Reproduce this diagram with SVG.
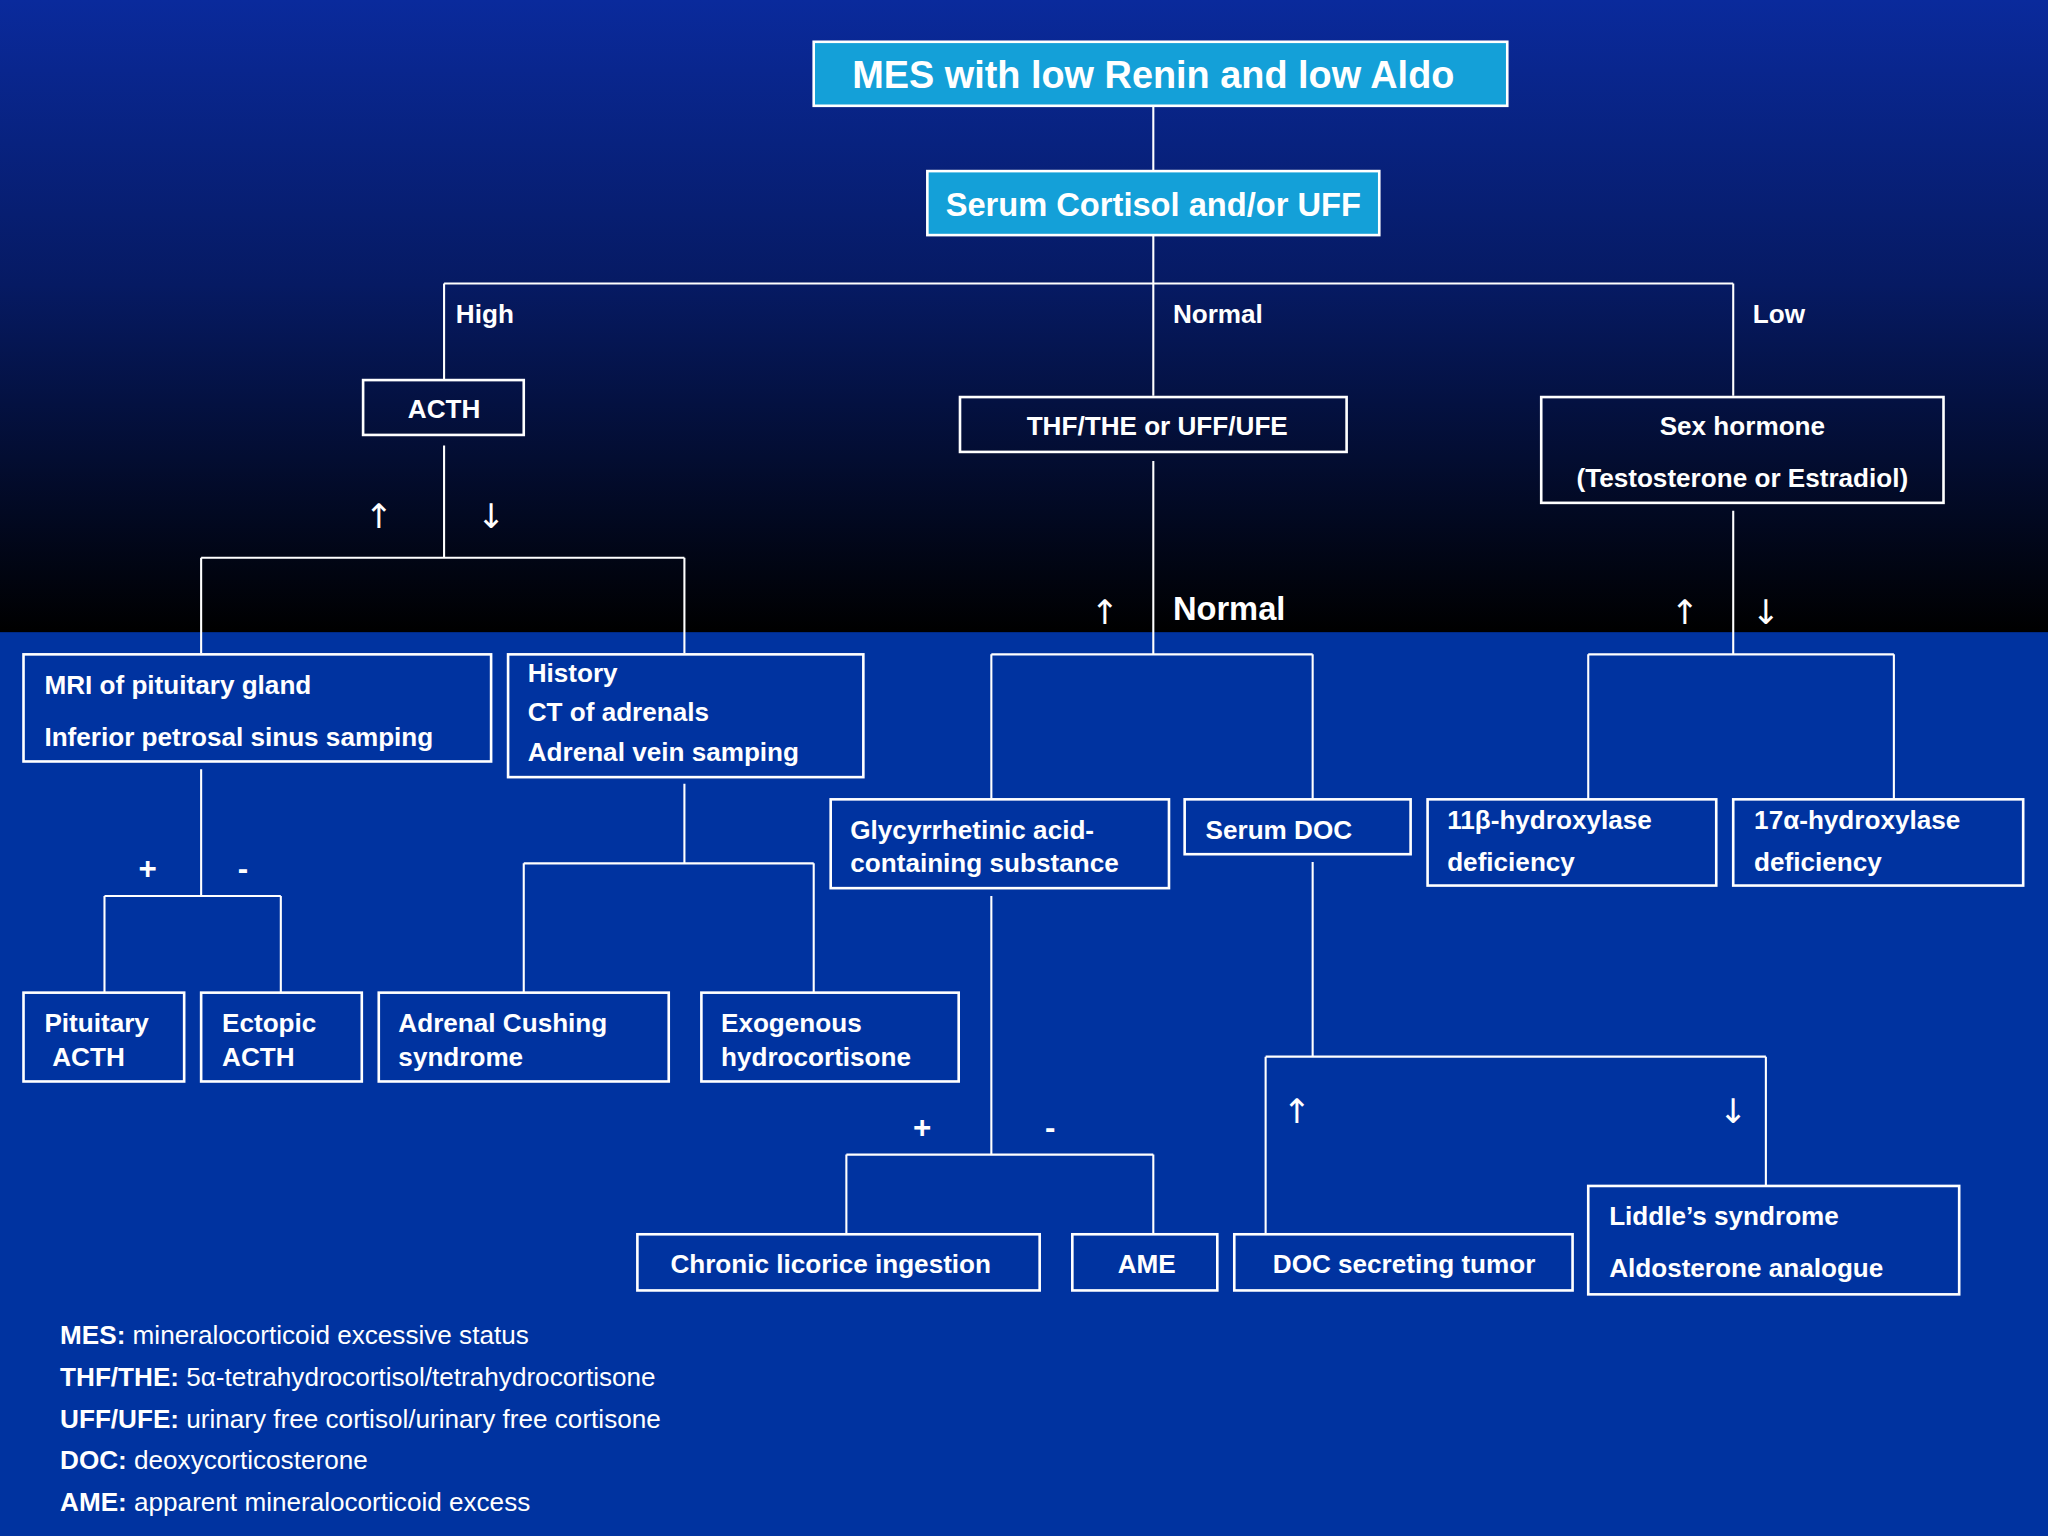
<svg xmlns="http://www.w3.org/2000/svg" width="2048" height="1536" viewBox="0 0 2048 1536">
<defs>
<linearGradient id="top" x1="0" y1="0" x2="0" y2="1">
<stop offset="0" stop-color="#0a2a9c"/>
<stop offset="0.45" stop-color="#061a63"/>
<stop offset="1" stop-color="#000000"/>
</linearGradient>
<style>
.b{fill:none;stroke:#fff;stroke-width:2}
.l{fill:none;stroke:#fff;stroke-width:1.6}
.t{font-family:"Liberation Sans",Arial,sans-serif;font-weight:bold;font-size:20px;fill:#fff}
.m{font-family:"Liberation Sans",Arial,sans-serif;font-size:20px;fill:#fff}
.a{font-family:"DejaVu Sans",sans-serif;font-size:26px;fill:#fff}
</style>
</defs>
<rect width="2048" height="1536" fill="#0033a0"/>
<g transform="scale(1.30612)">
<rect x="0" y="0" width="1568" height="484" fill="url(#top)"/>
<g id="connectors" class="l">
<path d="M883 81V131M883 180V217M340 217H1327M340 217V291M883 217V303M1327 217V303"/>
<path d="M340 341V427M154 427H524M154 427V500M524 427V500"/>
<path d="M154 589V686M80 686H215M80 686V760M215 686V760"/>
<path d="M524 600V661M401 661H623M401 661V760M623 661V760"/>
<path d="M883 353V501M759 501H1005M759 501V612M1005 501V612"/>
<path d="M759 686V884M648 884H883M648 884V945M883 884V945"/>
<path d="M1005 660V809M969 809H1352M969 809V945M1352 809V908"/>
<path d="M1327 391V501M1216 501H1450M1216 501V612M1450 501V612"/>
</g>
<g id="labels">
<text class="t" x="349" y="247">High</text>
<text class="t" x="898" y="247">Normal</text>
<text class="t" x="1342" y="247">Low</text>
<text class="a" x="279" y="404">↑</text><text class="a" x="365" y="404">↓</text>
<text class="a" x="835" y="478">↑</text>
<text class="t" x="898" y="475" style="font-size:25px">Normal</text>
<text class="a" x="1279" y="478">↑</text><text class="a" x="1341" y="478">↓</text>
<text class="a" x="982" y="860">↑</text><text class="a" x="1316" y="860">↓</text>
<text class="t" x="106" y="673" style="font-size:24px">+</text><text class="t" x="182" y="673" style="font-size:24px">-</text>
<text class="t" x="699" y="871" style="font-size:24px">+</text><text class="t" x="800" y="871" style="font-size:24px">-</text>
</g>
<g id="n-title"><rect x="623" y="32" width="531" height="49" fill="#14a0d8" stroke="#fff" stroke-width="2"/><text class="t" x="883" y="67" text-anchor="middle" style="font-size:29px">MES with low Renin and low Aldo</text></g>
<g id="n-serum"><rect x="710" y="131" width="346" height="49" fill="#14a0d8" stroke="#fff" stroke-width="2"/><text class="t" x="883" y="165" text-anchor="middle" style="font-size:25px">Serum Cortisol and/or UFF</text></g>
<g id="n-acth"><rect class="b" x="278" y="291" width="123" height="42"/><text class="t" x="340" y="320" text-anchor="middle">ACTH</text></g>
<g id="n-mri"><rect class="b" x="18" y="501" width="358" height="82"/><text class="t" x="34" y="531">MRI of pituitary gland</text><text class="t" x="34" y="571">Inferior petrosal sinus samping</text></g>
<g id="n-history"><rect class="b" x="389" y="501" width="272" height="94"/><text class="t" x="404" y="522">History</text><text class="t" x="404" y="552">CT of adrenals</text><text class="t" x="404" y="583">Adrenal vein samping</text></g>
<g id="n-pit"><rect class="b" x="18" y="760" width="123" height="68"/><text class="t" x="34" y="790">Pituitary</text><text class="t" x="40" y="816">ACTH</text></g>
<g id="n-ect"><rect class="b" x="154" y="760" width="123" height="68"/><text class="t" x="170" y="790">Ectopic</text><text class="t" x="170" y="816">ACTH</text></g>
<g id="n-acs"><rect class="b" x="290" y="760" width="222" height="68"/><text class="t" x="305" y="790">Adrenal Cushing</text><text class="t" x="305" y="816">syndrome</text></g>
<g id="n-exo"><rect class="b" x="537" y="760" width="197" height="68"/><text class="t" x="552" y="790">Exogenous</text><text class="t" x="552" y="816">hydrocortisone</text></g>
<g id="n-thf"><rect class="b" x="735" y="304" width="296" height="42"/><text class="t" x="886" y="333" text-anchor="middle">THF/THE or UFF/UFE</text></g>
<g id="n-gly"><rect class="b" x="636" y="612" width="259" height="68"/><text class="t" x="651" y="642">Glycyrrhetinic acid-</text><text class="t" x="651" y="668">containing substance</text></g>
<g id="n-doc"><rect class="b" x="907" y="612" width="173" height="42"/><text class="t" x="923" y="642">Serum  DOC</text></g>
<g id="n-chronic"><rect class="b" x="488" y="945" width="308" height="43"/><text class="t" x="636" y="975" text-anchor="middle">Chronic licorice ingestion</text></g>
<g id="n-ame"><rect class="b" x="821" y="945" width="111" height="43"/><text class="t" x="878" y="975" text-anchor="middle">AME</text></g>
<g id="n-doct"><rect class="b" x="945" y="945" width="259" height="43"/><text class="t" x="1075" y="975" text-anchor="middle">DOC secreting tumor</text></g>
<g id="n-liddle"><rect class="b" x="1216" y="908" width="284" height="83"/><text class="t" x="1232" y="938">Liddle’s syndrome</text><text class="t" x="1232" y="978">Aldosterone analogue</text></g>
<g id="n-sex"><rect class="b" x="1180" y="304" width="308" height="81"/><text class="t" x="1334" y="333" text-anchor="middle">Sex hormone</text><text class="t" x="1334" y="373" text-anchor="middle">(Testosterone or Estradiol)</text></g>
<g id="n-11b"><rect class="b" x="1093" y="612" width="221" height="66"/><text class="t" x="1108" y="635">11β-hydroxylase</text><text class="t" x="1108" y="667">deficiency</text></g>
<g id="n-17a"><rect class="b" x="1327" y="612" width="222" height="66"/><text class="t" x="1343" y="635">17α-hydroxylase</text><text class="t" x="1343" y="667">deficiency</text></g>
<g id="legend">
<text class="m" x="46" y="1029"><tspan font-weight="bold">MES:</tspan> mineralocorticoid excessive status</text>
<text class="m" x="46" y="1061"><tspan font-weight="bold">THF/THE:</tspan> 5α-tetrahydrocortisol/tetrahydrocortisone</text>
<text class="m" x="46" y="1093"><tspan font-weight="bold">UFF/UFE:</tspan> urinary free cortisol/urinary free cortisone</text>
<text class="m" x="46" y="1125"><tspan font-weight="bold">DOC:</tspan> deoxycorticosterone</text>
<text class="m" x="46" y="1157"><tspan font-weight="bold">AME:</tspan> apparent mineralocorticoid excess</text>
</g>
</g>
</svg>
